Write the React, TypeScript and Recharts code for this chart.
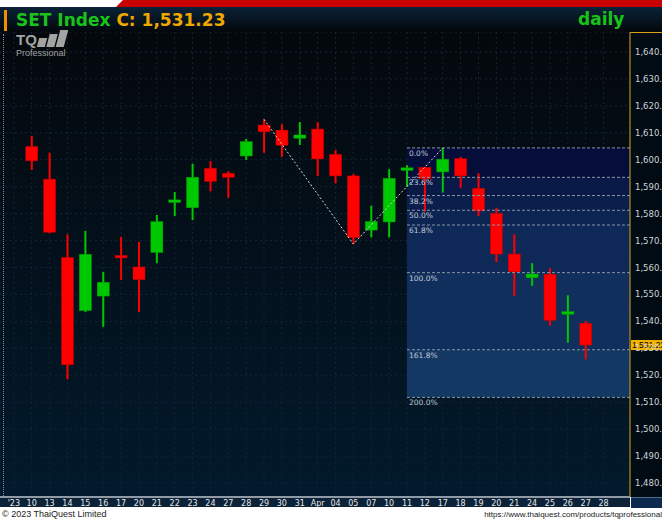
import {
  ComposedChart,
  Bar,
  Line,
  XAxis,
  YAxis,
  CartesianGrid,
  ReferenceArea,
  ReferenceLine,
} from 'recharts'

// x slots: first one is the month marker, last one is an empty future day
const dates = ["'23", '10', '13', '14', '15', '16', '17', '20', '21', '22', '23', '24', '27', '28', '29', '30', '31',
  'Apr', '04', '05', '07', '10', '11', '12', '17', '18', '19', '20', '21', '24', '25', '26', '27', '28']

const opens = [null, 1604.9, 1592.8, 1563.7, 1544.0, 1549.4, 1564.5, 1560.2, 1565.6, 1584.8, 1582.2, 1596.8, 1595.0,
  1601.4, 1612.9, 1611.0, 1608.0, 1611.4, 1602.0, 1594.0, 1573.9, 1576.9, 1596.6, 1597.2, 1595.5, 1600.4, 1589.4,
  1580.1, 1565.0, 1556.2, 1557.5, 1543.2, 1539.3, null]
const highs = [null, 1608.9, 1602.6, 1572.3, 1573.6, 1558.4, 1571.4, 1569.5, 1579.5, 1588.0, 1598.5, 1599.5, 1595.8,
  1607.7, 1615.0, 1613.2, 1614.0, 1613.9, 1603.6, 1594.7, 1583.0, 1596.5, 1598.0, 1597.4, 1604.4, 1601.1, 1595.0,
  1582.2, 1572.3, 1561.6, 1559.7, 1549.7, 1540.2, null]
const lows = [null, 1596.2, 1572.7, 1518.5, 1543.5, 1538.0, 1555.4, 1543.5, 1561.6, 1579.1, 1577.6, 1588.3, 1585.9,
  1599.9, 1602.6, 1601.1, 1605.5, 1594.0, 1591.3, 1568.7, 1571.2, 1571.2, 1590.0, 1580.7, 1587.8, 1589.6, 1579.1,
  1562.0, 1549.5, 1553.2, 1538.4, 1532.1, 1525.9, null]
const closes = [null, 1599.6, 1573.1, 1523.9, 1564.9, 1554.5, 1564.0, 1555.5, 1577.0, 1585.1, 1593.5, 1592.0, 1593.5,
  1606.7, 1610.4, 1605.4, 1609.2, 1600.3, 1594.0, 1571.1, 1577.0, 1593.1, 1597.0, 1592.9, 1600.2, 1594.0, 1581.0,
  1565.0, 1558.4, 1557.6, 1540.4, 1543.6, 1531.23, null]

// zigzag drawing: swing high, swing low, swing high
const zigIndex = [14, 19, 24]
const zigValues = [1615.0, 1568.7, 1604.4]

// fibonacci retracement
const fibStart = 22
const fibHigh = 1604.4
const fibLow = 1558.1
const fibLevels = [0, 23.6, 38.2, 50, 61.8, 100, 161.8, 200]
const fibFills = ['#050e3a', '#091a48', '#0b1f4d', '#0c2452', '#0e2957', '#102f5c', '#133864']

const yTicks = [1480, 1490, 1500, 1510, 1520, 1530, 1540, 1550, 1560, 1570, 1580, 1590, 1600, 1610, 1620, 1630, 1640]
const lastClose = 1531.23

const rows = dates.map((d, i) => {
  const zi = zigIndex.indexOf(i)
  return {
    i,
    label: d,
    open: opens[i],
    high: highs[i],
    low: lows[i],
    close: closes[i],
    zig: zi >= 0 ? zigValues[zi] : null,
  }
})

const fibValue = (p: number) => fibHigh - ((fibHigh - fibLow) * p) / 100

const X_MIN = -0.774
const X_MAX = 34.48

function Candle(props: any) {
  const { x, y, width, height, payload } = props
  if (payload.open == null || !height) return null
  const { open, close, high, low } = payload
  const up = close >= open
  const color = up ? '#00c800' : '#ff0000'
  const k = height / (high - low)
  const cx = x + width / 2
  const yOf = (v: number) => y + (high - v) * k
  const top = yOf(Math.max(open, close))
  const bh = Math.max(yOf(Math.min(open, close)) - top, 2.5)
  return (
    <g>
      <rect x={cx - 1} y={y} width={2} height={height} fill={color} />
      <rect x={cx - 6} y={top} width={12} height={bh} fill={color} stroke={up ? '#00a000' : '#c00000'} strokeWidth={0.5} />
    </g>
  )
}

function XTick(props: any) {
  const { x, y, payload } = props
  return (
    <text x={x} y={y + 7} textAnchor="middle" fill="#e6e6e6" fontSize={8} fontFamily="DejaVu Sans">
      {dates[payload.value]}
    </text>
  )
}

function YTick(props: any) {
  const { x, y, payload } = props
  return (
    <text x={x + 3} y={y + 3} fill="#d4d4d4" fontSize={8.5} fontFamily="DejaVu Sans">
      {payload.value.toLocaleString('en-US', { minimumFractionDigits: 2 })}
    </text>
  )
}

function fibLabel(text: string) {
  return function FibLabel(props: any) {
    const vb = props.viewBox || {}
    return (
      <text x={vb.x + 2} y={vb.y + 8} fill="#c2cad6" fontSize={7.5} fontFamily="DejaVu Sans">
        {text}
      </text>
    )
  }
}

function PriceTag(props: any) {
  const vb = props.viewBox || {}
  const x0 = vb.x + vb.width + 1
  return (
    <g>
      <rect x={x0} y={vb.y - 5} width={32} height={10} fill="#f5b400" />
      <text x={x0 + 1} y={vb.y + 3} fill="#000" fontSize={8.5} fontFamily="Liberation Sans">
        {lastClose.toLocaleString('en-US', { minimumFractionDigits: 2 })}
      </text>
    </g>
  )
}

export default function App() {
  return (
    <div style={{ position: 'relative', width: 662, height: 520, overflow: 'hidden', background: '#fff', fontFamily: 'DejaVu Sans' }}>
      <style>{'body{margin:0}'}</style>
      {/* header */}
      <div style={{ position: 'absolute', left: 0, top: 0, width: 662, height: 7, background: '#fff' }} />
      <div style={{ position: 'absolute', left: 116, top: 0, width: 546, height: 7, background: '#c80000', clipPath: 'polygon(7px 0, 100% 0, 100% 100%, 0 100%)' }} />
      <div style={{ position: 'absolute', left: 0, top: 7, width: 662, height: 25, background: 'linear-gradient(#0b2238, #02070b)' }} />
      <div style={{ position: 'absolute', left: 4, top: 10, width: 3, height: 21, background: '#f09000' }} />
      <div style={{ position: 'absolute', left: 16, top: 9, fontSize: 17, fontWeight: 'bold', whiteSpace: 'nowrap', lineHeight: '22px' }}>
        <span style={{ color: '#18c418' }}>SET Index </span>
        <span style={{ color: '#f0a800' }}>C: 1,531.23</span>
      </div>
      <div style={{ position: 'absolute', left: 578, top: 8, fontSize: 17, fontWeight: 'bold', color: '#18c418', lineHeight: '22px' }}>daily</div>

      {/* plot background */}
      <div style={{ position: 'absolute', left: 0, top: 32, width: 630, height: 465, background: 'linear-gradient(#04080c, #021a2c)' }} />
      <div style={{ position: 'absolute', left: 630, top: 32, width: 32, height: 465, background: '#000b14' }} />
      <div style={{ position: 'absolute', left: 630, top: 32, width: 32, height: 1, background: '#d8a514' }} />
      <div style={{ position: 'absolute', left: 0, top: 497, width: 630, height: 10, background: '#0b2239' }} />
      <div style={{ position: 'absolute', left: 631, top: 497, width: 31, height: 10, background: '#0c2a4e', borderTop: '1px solid #4a6a90' }} />
      <div style={{ position: 'absolute', left: 3, top: 34, width: 0, height: 462, borderLeft: '1px dotted #8090a0' }} />

      <div style={{ position: 'absolute', left: 0, top: 32 }}>
        <ComposedChart width={662} height={475} data={rows} margin={{ top: 0, right: 0, bottom: 0, left: 0 }}>
          <CartesianGrid stroke="#13243a" strokeDasharray="2 3" />
          <XAxis
            type="number"
            dataKey="i"
            domain={[X_MIN, X_MAX]}
            ticks={dates.map((_, i) => i)}
            allowDataOverflow
            height={10}
            tickSize={0}
            tickLine={false}
            axisLine={{ stroke: '#8f9aa4', strokeWidth: 2 }}
            tick={<XTick />}
            interval={0}
          />
          <YAxis
            orientation="right"
            domain={[1474.82, 1647.42]}
            ticks={yTicks}
            allowDataOverflow
            width={32}
            tickSize={0}
            tickLine={false}
            axisLine={{ stroke: '#d8a514' }}
            tick={<YTick />}
          />
          {fibFills.map((f, k) => (
            <ReferenceArea
              key={'fa' + k}
              x1={fibStart}
              x2={X_MAX}
              y1={fibValue(fibLevels[k + 1])}
              y2={fibValue(fibLevels[k])}
              fill={f}
              fillOpacity={1}
              stroke="none"
            />
          ))}
          {fibLevels.map(p => (
            <ReferenceLine
              key={'fl' + p}
              segment={[{ x: fibStart, y: fibValue(p) }, { x: X_MAX, y: fibValue(p) }]}
              stroke="#8a97a8"
              strokeDasharray="3 2"
              label={fibLabel(p.toFixed(1) + '%')}
            />
          ))}
          <Bar
            dataKey={(d: any) => (d.high == null ? null : [d.low, d.high])}
            barSize={12}
            shape={<Candle />}
            isAnimationActive={false}
          />
          <Line
            dataKey="zig"
            connectNulls
            dot={false}
            stroke="#d8d8d8"
            strokeWidth={1}
            strokeDasharray="2 2"
            isAnimationActive={false}
          />
          <ReferenceLine y={lastClose} stroke="none" label={PriceTag} />
        </ComposedChart>
      </div>

      {/* logo */}
      <div style={{ position: 'absolute', left: 16, top: 32, color: '#b4b4b4', opacity: 0.9 }}>
        <div style={{ fontSize: 15, fontWeight: 'bold', lineHeight: '15px', fontFamily: 'Liberation Sans' }}>TQ</div>
        <div style={{ position: 'absolute', left: 22, top: 6, width: 8, height: 9, background: '#b4b4b4', transform: 'skewX(-15deg)' }} />
        <div style={{ position: 'absolute', left: 32, top: 2, width: 8, height: 13, background: '#b4b4b4', transform: 'skewX(-15deg)' }} />
        <div style={{ position: 'absolute', left: 42, top: -2, width: 8, height: 17, background: '#b4b4b4', transform: 'skewX(-15deg)' }} />
        <div style={{ fontSize: 9, lineHeight: '10px', marginTop: 1, fontFamily: 'Liberation Sans' }}>Professional</div>
      </div>

      {/* footer */}
      <div style={{ position: 'absolute', left: 2, top: 508, fontSize: 9, color: '#222', fontFamily: 'Liberation Sans', lineHeight: '12px' }}>
        © 2023 ThaiQuest Limited
      </div>
      <div style={{ position: 'absolute', right: 0, top: 509, fontSize: 8, color: '#222', fontFamily: 'Liberation Sans', lineHeight: '11px' }}>
        https://www.thaiquest.com/products/tqprofessional
      </div>
    </div>
  )
}
